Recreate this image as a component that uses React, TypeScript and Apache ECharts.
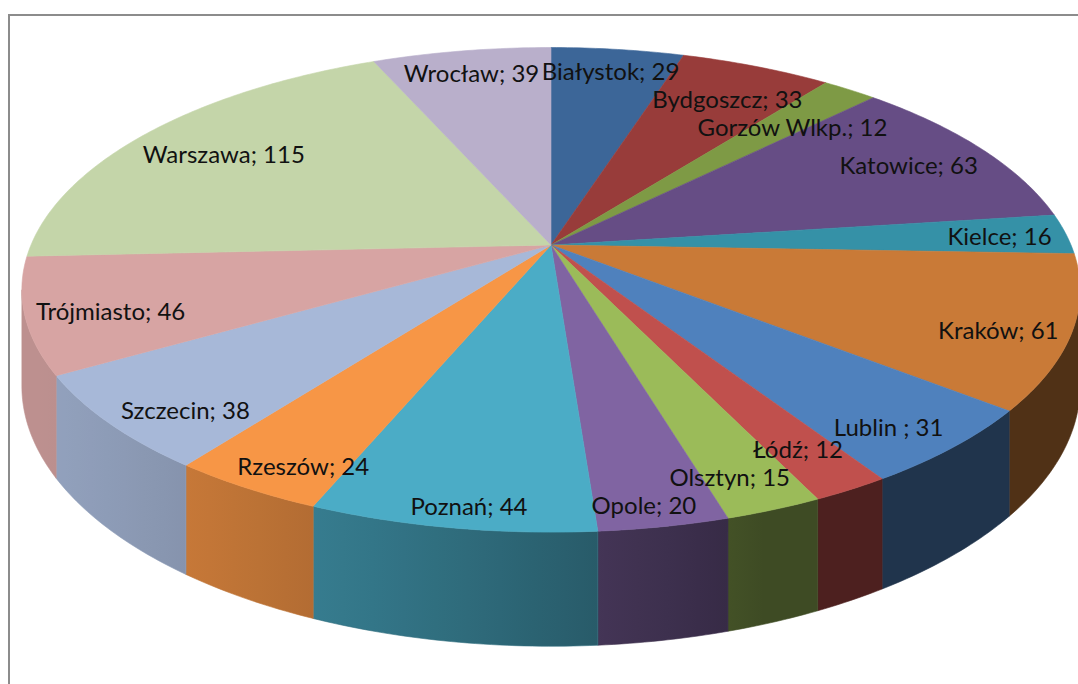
import React, { useEffect, useRef } from "react";
import * as echarts from "echarts";

// ---- data ----
const cities: string[] = [
  "Białystok", "Bydgoszcz", "Gorzów Wlkp.", "Katowice", "Kielce", "Kraków",
  "Lublin ", "Łódź", "Olsztyn", "Opole", "Poznań", "Rzeszów",
  "Szczecin", "Trójmiasto", "Warszawa", "Wrocław",
];
const values: number[] = [29, 33, 12, 63, 16, 61, 31, 12, 15, 20, 44, 24, 38, 46, 115, 39];
const colors: string[] = [
  "#3C6698", "#983C3A", "#7E9A45", "#664D85", "#3591A7", "#C97A37",
  "#4F81BD", "#C0504D", "#9BBB59", "#8064A2", "#4BACC6", "#F79646",
  "#A7B8D8", "#D7A4A3", "#C4D5A9", "#B9AFCB",
];

// ---- geometry (perspective-projected disc) ----
const CX = 551;
const CY = 245;
const R = 520;
const RZ = 234;
const A = 0.185;
const H = 93;
const FONT = '24px Lato, "Noto Sans", sans-serif';
const BOX_H = 26;
const LIM = 0.985;
const FRONT_STRETCH = 1.12;
const TH1 = (Math.acos(-A) * 180) / Math.PI; // right silhouette
const TH2 = 360 - TH1; // left silhouette

function proj(deg: number, f: number, h: number): [number, number] {
  const t = (deg * Math.PI) / 180;
  const s = Math.sin(t);
  const c = Math.cos(t);
  const p = 1 / (1 + A * f * c);
  return [CX + R * f * s * p, CY - RZ * f * c * p + h * p];
}
// label anchor: like proj, slightly stretched downward for front slices
function labelPos(deg: number, f: number): [number, number] {
  const t = (deg * Math.PI) / 180;
  const s = Math.sin(t);
  const c = Math.cos(t);
  const p = 1 / (1 + A * f * c);
  const k = c < 0 ? FRONT_STRETCH : 1;
  return [CX + R * f * s * p, CY - RZ * f * c * p * k];
}
// radius (fraction of disc) of a screen point lying on the top face plane
function invF(x: number, y: number): number {
  const X = (x - CX) / R;
  const Y = (CY - y) / RZ;
  const u = Y / (1 - A * Y);
  const v = X * (1 + A * u);
  return Math.sqrt(u * u + v * v);
}

function hexToRgb(hex: string): [number, number, number] {
  const n = parseInt(hex.slice(1), 16);
  return [(n >> 16) & 255, (n >> 8) & 255, n & 255];
}
function shade(hex: string, k: number): string {
  const [r, g, b] = hexToRgb(hex);
  return `rgb(${Math.round(r * k)},${Math.round(g * k)},${Math.round(b * k)})`;
}
function lightAt(deg: number): number {
  const d = ((deg - 250) * Math.PI) / 180;
  return 0.4 + 0.48 * Math.max(0, Math.cos(d));
}

function arcAngles(a0: number, a1: number): number[] {
  const n = Math.max(2, Math.ceil((a1 - a0) / 0.75));
  const out: number[] = [];
  for (let i = 0; i <= n; i++) out.push(a0 + ((a1 - a0) * i) / n);
  return out;
}

function measure(text: string): number {
  const c = document.createElement("canvas").getContext("2d");
  if (!c) return text.length * 11;
  c.font = FONT;
  return c.measureText(text).width;
}

export default function App() {
  const ref = useRef<HTMLDivElement>(null);
  useEffect(() => {
    if (!ref.current) return;
    const chart = echarts.init(ref.current, null, { renderer: "svg" });
    const total = values.reduce((a, b) => a + b, 0);
    const starts: number[] = [];
    let acc = 0;
    values.forEach((v) => {
      starts.push((acc / total) * 360);
      acc += v;
    });
    const data = values.map((v, i) => [v, i]);

    // ---- label placement ----
    const texts = values.map((v, i) => `${cities[i]}; ${v}`);
    const widths = texts.map(measure);
    const fitAt = (deg: number, w: number) => {
      const fits = (t: number) => {
        const [x, y] = labelPos(deg, t);
        const hw = w / 2;
        const hh = BOX_H / 2;
        return (
          invF(x - hw, y - hh) <= LIM &&
          invF(x + hw, y - hh) <= LIM &&
          invF(x - hw, y + hh) <= LIM &&
          invF(x + hw, y + hh) <= LIM
        );
      };
      let lo = 0.2;
      let hi = 1.0;
      for (let k = 0; k < 24; k++) {
        const m = (lo + hi) / 2;
        if (fits(m)) lo = m;
        else hi = m;
      }
      return lo;
    };
    const positions: { x: number; y: number }[] = new Array(values.length);
    const placed: { x: number; y: number; w: number }[] = [];
    const collides = (x: number, y: number, w: number) =>
      placed.some((b) => {
        const xov = (b.w + w) / 2 + 2 - Math.abs(b.x - x);
        const dy = Math.abs(b.y - y);
        return xov > 0 && (dy < 21 || (xov > 14 && dy < 28));
      });
    const midOf = (i: number) => starts[i] + (values[i] / total) * 180;
    const order = values
      .map((v, i) => i)
      .sort(
        (i, j) =>
          Math.abs(Math.sin((midOf(i) * Math.PI) / 180)) -
          Math.abs(Math.sin((midOf(j) * Math.PI) / 180))
      );
    order.forEach((i) => {
      const a0 = starts[i];
      const a1 = a0 + (values[i] / total) * 360;
      const mid = (a0 + a1) / 2;
      const w = widths[i];
      const [ix, iy] = labelPos(mid, fitAt(mid, w));
      let best: [number, number] | null = null;
      let bestD = Infinity;
      for (let phi = a0; phi <= a1 + 1e-6; phi += 0.25) {
        const tf = fitAt(phi, w);
        for (let t = tf; t >= 0.3; t -= 0.004) {
          const [x, y] = labelPos(phi, t);
          if (collides(x, y, w)) continue;
          const d = Math.hypot(x - ix, y - iy);
          if (d < bestD) {
            bestD = d;
            best = [x, y];
          }
          break;
        }
      }
      if (!collides(ix, iy, w)) best = [ix, iy];
      const [bx, by] = best || [ix, iy];
      positions[i] = { x: bx, y: by };
      placed.push({ x: bx, y: by, w });
    });

    const facesRender = (params: any, api: any) => {
      const i = params.dataIndex;
      const v = api.value(0) as number;
      const a0 = starts[i];
      const a1 = a0 + (v / total) * 360;
      const color = colors[i];
      const children: any[] = [];
      const w0 = Math.max(a0, TH1);
      const w1 = Math.min(a1, TH2);
      if (w1 > w0) {
        const angs = arcAngles(w0, w1);
        const topPts = angs.map((d) => proj(d, 1, 0));
        const botPts = angs.map((d) => proj(d, 1, H)).reverse();
        const x0 = topPts[0][0];
        const x1 = topPts[topPts.length - 1][0];
        const stops = angs
          .filter((_, k) => k % 4 === 0)
          .concat([w1])
          .map((d) => {
            const x = proj(d, 1, 0)[0];
            return {
              offset: Math.min(1, Math.max(0, (x - x0) / (x1 - x0 || 1))),
              color: shade(color, lightAt(d)),
            };
          });
        const mid = shade(color, lightAt((w0 + w1) / 2));
        children.push({
          type: "polygon",
          shape: { points: topPts.concat(botPts) },
          style: {
            fill: new echarts.graphic.LinearGradient(x0, 0, x1, 0, stops, true),
            stroke: mid,
            lineWidth: 0.6,
          },
        });
      }
      const pts: [number, number][] = [[CX, CY]];
      arcAngles(a0, a1).forEach((d) => pts.push(proj(d, 1, 0)));
      children.push({
        type: "polygon",
        shape: { points: pts },
        style: { fill: color, stroke: color, lineWidth: 0.6 },
      });
      return { type: "group", children };
    };

    const labelRender = (params: any, api: any) => {
      const i = params.dataIndex;
      const v = api.value(0) as number;
      const p = positions[i];
      return {
        type: "text",
        x: p.x,
        y: p.y,
        style: {
          text: `${cities[i]}; ${v}`,
          fill: "#111111",
          font: FONT,
          align: "center",
          verticalAlign: "middle",
          textAlign: "center",
          textVerticalAlign: "middle",
        },
      };
    };

    chart.setOption({
      animation: false,
      backgroundColor: "#ffffff",
      graphic: [
        {
          type: "rect",
          shape: { x: 9, y: 15, width: 1200, height: 800 },
          style: { fill: "none", stroke: "#8c8c8c", lineWidth: 2 },
          z: -10,
        },
      ],
      series: [
        {
          type: "custom",
          coordinateSystem: "none",
          renderItem: facesRender,
          data,
          z: 2,
          silent: true,
        },
        {
          type: "custom",
          coordinateSystem: "none",
          renderItem: labelRender,
          data,
          z: 5,
          silent: true,
        },
      ],
    });
    return () => chart.dispose();
  }, []);
  return (
    <div
      ref={ref}
      style={{ position: "fixed", left: 0, top: 0, width: 1078, height: 684 }}
    />
  );
}
